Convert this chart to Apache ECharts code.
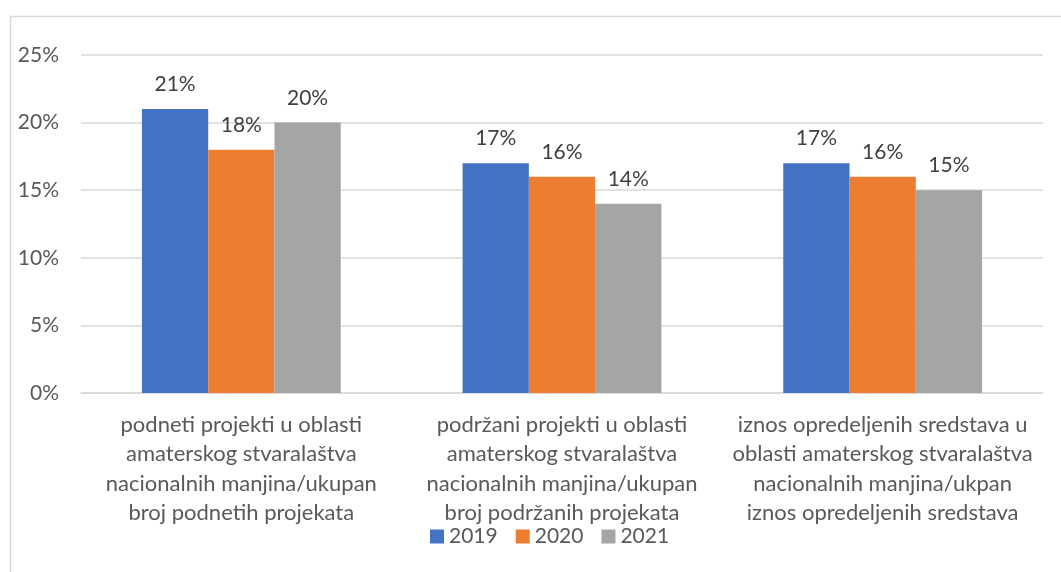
<!DOCTYPE html>
<html>
<head>
<meta charset="utf-8">
<script src="https://cdn.jsdelivr.net/npm/echarts@6/dist/echarts.min.js"></script>
<style>
  html, body { margin: 0; padding: 0; background: #fff; }
  #chart { width: 1061px; height: 572px; }
</style>
</head>
<body>
<div id="chart"></div>
<script>
// kategorije i vrijednosti (%)
const categories = [
  "podneti projekti u oblasti\namaterskog stvaralaštva\nnacionalnih manjina/ukupan\nbroj podnetih projekata",
  "podržani projekti u oblasti\namaterskog stvaralaštva\nnacionalnih manjina/ukupan\nbroj podržanih projekata",
  "iznos opredeljenih sredstava u\noblasti amaterskog stvaralaštva\nnacionalnih manjina/ukpan\niznos opredeljenih sredstava"
];
const seriesNames = ["2019", "2020", "2021"];
const values2019 = [21, 17, 17];
const values2020 = [18, 16, 16];
const values2021 = [20, 14, 15];
const colors = ["#4472C4", "#ED7D31", "#A5A5A5"];

const fontFamily = "Lato, 'Open Sans', sans-serif";
const chart = echarts.init(document.getElementById("chart"));

const option = {
  color: colors,
  animation: false,
  textStyle: { fontFamily: fontFamily },
  graphic: [
    {
      type: "rect",
      left: 8,
      top: 14,
      shape: { width: 1100, height: 600 },
      style: { fill: "none", stroke: "#d9d9d9", lineWidth: 1.5 },
      silent: true
    }
  ],
  legend: {
    bottom: 20,
    left: 425,
    itemWidth: 14,
    itemHeight: 14,
    itemGap: 18,
    icon: "rect",
    textStyle: { color: "#595959", fontSize: 21, fontFamily: fontFamily },
    data: seriesNames
  },
  grid: {
    left: 81,
    right: 18,
    top: 55,
    bottom: 179,
    containLabel: false
  },
  xAxis: {
    type: "category",
    data: categories,
    axisLine: { show: true, lineStyle: { color: "#d9d9d9", width: 1.5 } },
    axisTick: { show: false },
    axisLabel: {
      interval: 0,
      color: "#595959",
      fontSize: 22,
      lineHeight: 29.5,
      margin: 17,
      fontFamily: fontFamily
    }
  },
  yAxis: {
    type: "value",
    min: 0,
    max: 25,
    interval: 5,
    axisLine: { show: false },
    axisTick: { show: false },
    splitLine: { lineStyle: { color: "#d9d9d9", width: 1.5 } },
    axisLabel: {
      formatter: "{value}%",
      color: "#595959",
      fontSize: 21,
      margin: 22,
      fontFamily: fontFamily
    }
  },
  series: [values2019, values2020, values2021].map((vals, i) => ({
    name: seriesNames[i],
    type: "bar",
    data: vals,
    barGap: "0%",
    barCategoryGap: "38%",
    label: {
      show: true,
      position: "top",
      distance: 14,
      formatter: "{c}%",
      color: "#404040",
      fontSize: 21,
      fontFamily: fontFamily
    }
  }))
};

chart.setOption(option);
</script>
</body>
</html>
